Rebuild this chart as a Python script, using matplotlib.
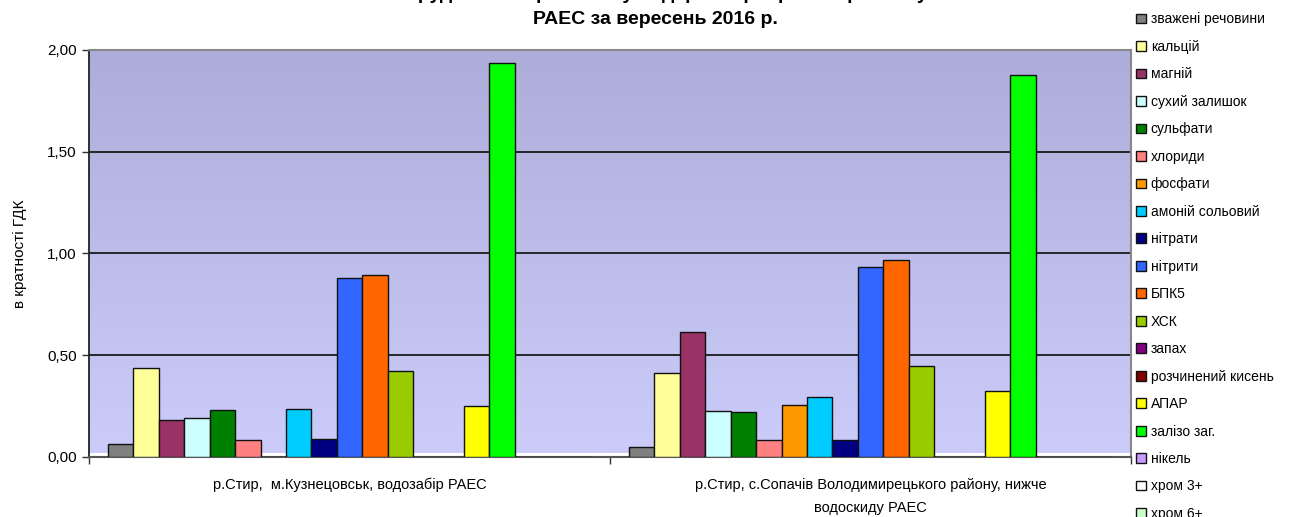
import matplotlib.pyplot as plt
import numpy as np
from matplotlib.colors import LinearSegmentedColormap

plt.rcParams['font.family'] = ['Liberation Sans', 'DejaVu Sans']

# Data
sites = ['р.Стир,  м.Кузнецовськ, водозабір РАЕС',
         'р.Стир, с.Сопачів Володимирецького району, нижче\nводоскиду РАЕС']
series = ['зважені речовини', 'кальцій', 'магній', 'сухий залишок', 'сульфати',
          'хлориди', 'фосфати', 'амоній сольовий', 'нітрати', 'нітрити', 'БПК5',
          'ХСК', 'запах', 'розчинений кисень', 'АПАР', 'залізо заг.', 'нікель',
          'хром 3+', 'хром 6+']
site1 = [0.066, 0.439, 0.184, 0.192, 0.229, 0.084, 0.0, 0.235, 0.086, 0.882,
         0.892, 0.423, 0.0, 0.0, 0.252, 1.935, 0.0, 0.0, 0.0]
site2 = [0.048, 0.414, 0.614, 0.228, 0.219, 0.083, 0.254, 0.297, 0.084, 0.936,
         0.970, 0.449, 0.0, 0.0, 0.322, 1.876, 0.0, 0.0, 0.0]
colors = ['#808080', '#FFFF99', '#993366', '#CCFFFF', '#008000', '#FF8080',
          '#FF9900', '#00CCFF', '#000080', '#3366FF', '#FF6600', '#99CC00',
          '#800080', '#800000', '#FFFF00', '#00FF00', '#CC99FF', '#FFFFFF',
          '#CCFFCC']
yticks = [0.0, 0.5, 1.0, 1.5, 2.0]

fig = plt.figure(figsize=(13.11, 5.17), dpi=100)
ax = fig.add_axes([89 / 1311, 1 - 457 / 517, (1131 - 89) / 1311, (457 - 50) / 517])

# gradient background of the plot area
grad = np.linspace(0, 1, 256).reshape(-1, 1)
cmap = LinearSegmentedColormap.from_list('bg', ['#CCCCFA', '#ADADDA'])
ax.imshow(grad, cmap=cmap, aspect='auto', extent=[0, 1, 0.01, 1],
          transform=ax.transAxes, origin='lower', zorder=0)

n = len(series)
w = 1.0 / (n + 1.5)
x = np.arange(len(sites))
for k, name in enumerate(series):
    vals = [site1[k], site2[k]]
    off = -0.5 + 0.75 * w + (k + 0.5) * w
    ax.bar(x + off, vals, width=w, color=colors[k], edgecolor='#111111',
           linewidth=1.0, label=name, zorder=3)

ax.set_xlim(-0.5, 1.5)
ax.set_ylim(0, 2.0)
ax.set_yticks(yticks)
ax.set_yticklabels([f'{v:.2f}'.replace('.', ',') for v in yticks], fontsize=11)
for v in yticks[1:-1]:
    ax.axhline(v, color='#1a1a1a', linewidth=1.3, zorder=1)

ax.set_xticks([-0.5, 0.5, 1.5])
ax.set_xticklabels([])
ax.set_xticks(x, minor=True)
ax.set_xticklabels(sites, minor=True, fontsize=10.5, linespacing=1.8)
ax.tick_params(axis='x', which='minor', length=0, pad=15)
ax.tick_params(axis='x', which='major', length=5, width=1, color='#333333')
ax.tick_params(axis='y', length=5, width=1, color='#333333', pad=4)

ax.spines['left'].set_color('#222222')
ax.spines['left'].set_linewidth(1.3)
ax.spines['bottom'].set_color('#555555')
ax.spines['bottom'].set_linewidth(1.5)
ax.spines['top'].set_color('#888888')
ax.spines['top'].set_linewidth(1.5)
ax.spines['right'].set_color('#888888')
ax.spines['right'].set_linewidth(1.5)

ax.set_ylabel('в кратності ГДК', fontsize=11, labelpad=14)

# first title line is clipped at the top edge, as in the source image
fig.text(0.5, 1.011, 'Вміст забруднюючих речовин у воді р. Стир в районі розташування',
         ha='center', va='center', fontsize=14, fontweight='bold')
fig.text(0.5, 0.962, 'РАЕС за вересень 2016 р.', ha='center', va='center',
         fontsize=14, fontweight='bold')

ax.legend(loc='upper left', bbox_to_anchor=(1132 / 1311, 0.984),
          bbox_transform=fig.transFigure, frameon=False, fontsize=10,
          handlelength=0.7, handleheight=0.7, handletextpad=0.35,
          labelspacing=0.97, borderpad=0.3, borderaxespad=0.0)

fig.savefig('out.png', dpi=100)
